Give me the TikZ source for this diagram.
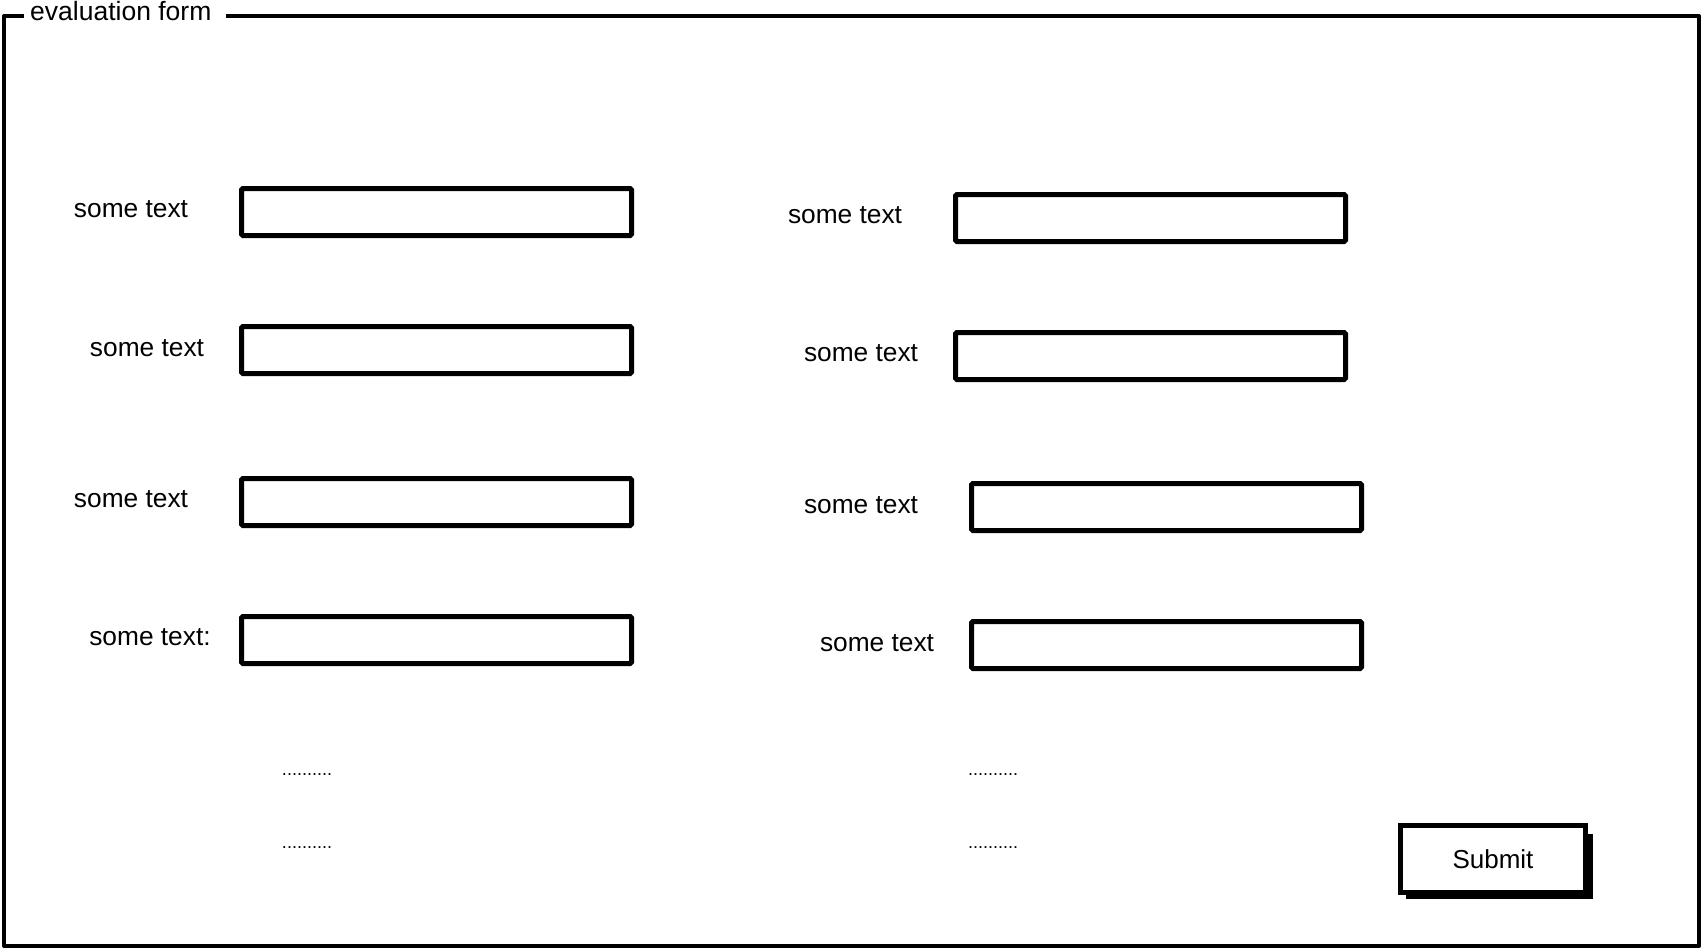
\documentclass[tikz,border=0pt]{standalone}
\usepackage{fontspec}
\setmainfont{Liberation Sans}
\begin{document}
\begin{tikzpicture}[x=1pt,y=-1pt,
  field/.style={draw=black,line width=5pt,fill=white,minimum width=390pt,minimum height=47pt,inner sep=0pt,anchor=north west,rounded corners=1.5pt},
  lbl/.style={font=\fontsize{26.3}{31}\selectfont,inner sep=0pt},
  dots/.style={font=\fontsize{18}{21}\selectfont,inner sep=0pt},
  frameline/.style={line width=4pt,line join=round}]
\useasboundingbox (0,0) rectangle (1704,950);
% outer frame
\node[lbl,anchor=west,font=\fontsize{26.5}{31}\selectfont] (title) at (30,11) {evaluation form};
\coordinate (ftl) at (4,16);
\coordinate (ftr) at (1699,16);
\coordinate (fbr) at (1699,946);
\coordinate (fbl) at (4,946);
\draw[frameline] ([xshift=-6pt]title.west |- ftl) -- (ftl) -- (fbl) -- (fbr) -- (ftr) -- ([xshift=14pt]title.east |- ftr);
% left column
\node[field] (l1) at (239,186) {};
\node[field] (l2) at (239,324) {};
\node[field] (l3) at (239,476) {};
\node[field] (l4) at (239,614) {};
\node[lbl] (tl1) at (131,209) {some text};
\node[lbl] (tl2) at (147,348) {some text};
\node[lbl] (tl3) at (131,499) {some text};
\node[lbl] (tl4) at (150,637) {some text:};
% right column
\node[field] (r1) at (953,192) {};
\node[field] (r2) at (953,330) {};
\node[field] (r3) at (969,481) {};
\node[field] (r4) at (969,619) {};
\node[lbl] (tr1) at (845,215) {some text};
\node[lbl] (tr2) at (861,353) {some text};
\node[lbl] (tr3) at (861,505) {some text};
\node[lbl] (tr4) at (877,643) {some text};
% dots
\node[dots] (dl1) at (307,775) {..........};
\node[dots] (dl2) at (307,848) {..........};
\node[dots] (dr1) at (993,775) {..........};
\node[dots] (dr2) at (993,848) {..........};
% submit button
\fill[black] (1406,834) rectangle (1593,899);
\node[draw=black,line width=5pt,fill=white,minimum width=185pt,minimum height=67pt,inner sep=0pt,anchor=north west,
  font=\fontsize{26}{31}\selectfont] (submit) at (1398,823) {Submit};
\end{tikzpicture}
\end{document}
